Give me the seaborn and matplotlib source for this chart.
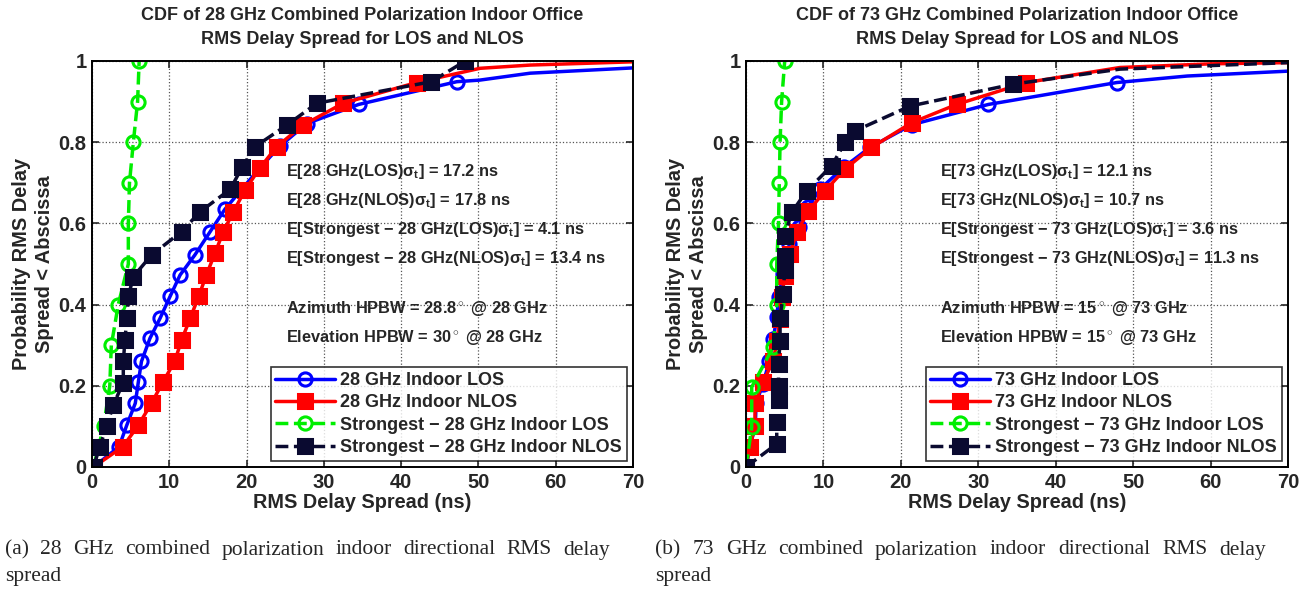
import matplotlib
matplotlib.use("Agg")
import matplotlib.pyplot as plt
import seaborn as sns
import numpy as np

# ---------------- data ----------------
# 28 GHz panel
l28_los_x = [0.2, 3.5, 4.5, 5.6, 6.0, 6.4, 7.5, 8.8, 10.1, 11.4, 13.3, 15.3, 17.2, 21.7, 24.3, 27.8, 34.5, 47.2, 50.2, 56.7, 70.0]
l28_los_y = [0.0, 0.05, 0.103, 0.157, 0.21, 0.26, 0.317, 0.366, 0.42, 0.473, 0.522, 0.58, 0.635, 0.736, 0.79, 0.846, 0.893, 0.949, 0.953, 0.97, 0.983]
l28_los_n = 18

l28_nlos_x = [0.2, 4.0, 6.0, 7.7, 9.2, 10.7, 11.6, 12.7, 13.8, 14.8, 15.9, 17.0, 18.3, 19.8, 21.7, 23.9, 27.3, 32.5, 42.0, 50.2, 56.7, 70.0]
l28_nlos_y = [0.0, 0.05, 0.103, 0.157, 0.21, 0.26, 0.313, 0.366, 0.42, 0.473, 0.526, 0.58, 0.629, 0.682, 0.736, 0.789, 0.842, 0.896, 0.947, 0.982, 0.99, 0.998]
l28_nlos_n = 19

s28_los_x = [0.2, 1.5, 2.3, 2.5, 3.4, 4.7, 4.7, 4.85, 5.35, 5.9, 6.1]
s28_los_y = [0.0, 0.1, 0.2, 0.3, 0.4, 0.5, 0.6, 0.7, 0.8, 0.9, 1.0]

s28_nlos_x = [0.2, 1.0, 1.9, 2.76, 4.05, 4.05, 4.27, 4.5, 4.7, 5.35, 7.7, 11.6, 14.0, 17.9, 19.4, 21.1, 25.2, 29.1, 43.9, 48.3]
s28_nlos_y = [0.0, 0.05, 0.10, 0.153, 0.208, 0.26, 0.313, 0.366, 0.42, 0.469, 0.522, 0.58, 0.629, 0.684, 0.738, 0.789, 0.842, 0.896, 0.949, 1.0]

# 73 GHz panel
l73_los_x = [0.0, 0.5, 1.2, 1.3, 2.2, 3.0, 3.5, 4.0, 4.2, 4.8, 5.6, 6.8, 8.0, 9.6, 12.6, 16.0, 21.4, 31.3, 47.9, 57.0, 70.0]
l73_los_y = [0.0, 0.05, 0.10, 0.157, 0.205, 0.26, 0.315, 0.369, 0.418, 0.475, 0.549, 0.59, 0.64, 0.685, 0.738, 0.787, 0.843, 0.893, 0.947, 0.963, 0.975]
l73_los_n = 19

l73_nlos_x = [0.0, 0.5, 1.16, 1.16, 2.2, 3.5, 4.0, 4.4, 4.6, 5.0, 5.7, 6.55, 8.05, 10.2, 12.8, 16.2, 21.4, 27.2, 36.2, 48.3, 60.0, 70.0]
l73_nlos_y = [0.0, 0.05, 0.10, 0.157, 0.21, 0.26, 0.31, 0.365, 0.418, 0.47, 0.525, 0.578, 0.63, 0.68, 0.734, 0.787, 0.848, 0.893, 0.947, 0.984, 0.993, 0.996]
l73_nlos_n = 19

s73_los_x = [0.0, 0.74, 0.74, 3.5, 3.97, 3.97, 4.2, 4.3, 4.4, 4.6, 5.0]
s73_los_y = [0.0, 0.098, 0.197, 0.295, 0.398, 0.5, 0.6, 0.7, 0.8, 0.9, 1.0]

s73_nlos_x = [0.0, 3.97, 3.97, 4.2, 4.2, 4.2, 4.4, 4.4, 4.8, 5.0, 5.0, 5.0, 5.9, 7.84, 11.07, 12.8, 14.1, 21.2, 34.5, 48.3, 70.0]
s73_nlos_y = [0.0, 0.057, 0.11, 0.164, 0.2, 0.254, 0.31, 0.367, 0.426, 0.484, 0.52, 0.57, 0.627, 0.68, 0.742, 0.80, 0.828, 0.889, 0.943, 0.98, 0.996]
s73_nlos_n = 19

xticks = [0, 10, 20, 30, 40, 50, 60, 70]
yticks = [0, 0.2, 0.4, 0.6, 0.8, 1.0]
yticklabels = ["0", "0.2", "0.4", "0.6", "0.8", "1"]

panels = [
    dict(freq="28",
         title="CDF of 28 GHz Combined Polarization Indoor Office\nRMS Delay Spread for LOS and NLOS",
         series=[(l28_los_x, l28_los_y, l28_los_n), (l28_nlos_x, l28_nlos_y, l28_nlos_n),
                 (s28_los_x, s28_los_y, len(s28_los_x)), (s28_nlos_x, s28_nlos_y, len(s28_nlos_x))],
         texts=["E[28 GHz(LOS)$\\mathbf{\\sigma_t}$] = 17.2 ns",
                "E[28 GHz(NLOS)$\\mathbf{\\sigma_t}$] = 17.8 ns",
                "E[Strongest \u2212 28 GHz(LOS)$\\mathbf{\\sigma_t}$] = 4.1 ns",
                "E[Strongest \u2212 28 GHz(NLOS)$\\mathbf{\\sigma_t}$] = 13.4 ns",
                "Azimuth HPBW = 28.8$^\\circ$ @ 28 GHz",
                "Elevation HPBW = 30$^\\circ$ @ 28 GHz"],
         caption="(a) 28 GHz combined polarization indoor directional RMS delay"),
    dict(freq="73",
         title="CDF of 73 GHz Combined Polarization Indoor Office\nRMS Delay Spread for LOS and NLOS",
         series=[(l73_los_x, l73_los_y, l73_los_n), (l73_nlos_x, l73_nlos_y, l73_nlos_n),
                 (s73_los_x, s73_los_y, len(s73_los_x)), (s73_nlos_x, s73_nlos_y, s73_nlos_n)],
         texts=["E[73 GHz(LOS)$\\mathbf{\\sigma_t}$] = 12.1 ns",
                "E[73 GHz(NLOS)$\\mathbf{\\sigma_t}$] = 10.7 ns",
                "E[Strongest \u2212 73 GHz(LOS)$\\mathbf{\\sigma_t}$] = 3.6 ns",
                "E[Strongest \u2212 73 GHz(NLOS)$\\mathbf{\\sigma_t}$] = 11.3 ns",
                "Azimuth HPBW = 15$^\\circ$ @ 73 GHz",
                "Elevation HPBW = 15$^\\circ$ @ 73 GHz"],
         caption="(b) 73 GHz combined polarization indoor directional RMS delay"),
]
text_y = [0.727, 0.657, 0.584, 0.514, 0.39, 0.32]

# ---------------- style ----------------
sns.set_style("ticks")
plt.rcParams["font.family"] = ["Liberation Sans", "DejaVu Sans"]
plt.rcParams["mathtext.fontset"] = "custom"
plt.rcParams["mathtext.rm"] = "Liberation Sans:bold"
plt.rcParams["mathtext.it"] = "Liberation Sans:bold"
plt.rcParams["mathtext.bf"] = "Liberation Sans:bold"

styles = [
    dict(color="#0000ff", ls="-", marker="o", mfc="none", mec="#0000ff"),
    dict(color="#ff0000", ls="-", marker="s", mfc="#ff0000", mec="#ff0000"),
    dict(color="#00ee00", ls="--", marker="o", mfc="none", mec="#00ee00"),
    dict(color="#0a0a30", ls="--", marker="s", mfc="#0a0a30", mec="#0a0a30"),
]

W, H = 1315, 589
fig = plt.figure(figsize=(W / 100, H / 100), dpi=100)
axes = [fig.add_axes([92 / W, 1 - 467 / H, 541 / W, 406 / H]),
        fig.add_axes([746 / W, 1 - 467 / H, 542 / W, 406 / H])]

for ax, p in zip(axes, panels):
    f = p["freq"]
    labels = [f"{f} GHz Indoor LOS", f"{f} GHz Indoor NLOS",
              f"Strongest \u2212 {f} GHz Indoor LOS", f"Strongest \u2212 {f} GHz Indoor NLOS"]
    for (xs, ys, n), st, lab in zip(p["series"], styles, labels):
        sns.lineplot(x=xs, y=ys, ax=ax, sort=False, estimator=None,
                     color=st["color"], linestyle=st["ls"], linewidth=2.5,
                     marker=st["marker"], markersize=9.5 if st["marker"] == "o" else 10,
                     markerfacecolor=st["mfc"], markeredgecolor=st["mec"],
                     markeredgewidth=2.2, markevery=list(range(n)), label=lab)
    ax.set_xlim(0, 70)
    ax.set_ylim(0, 1)
    ax.set_xticks(xticks)
    ax.set_yticks(yticks)
    ax.set_yticklabels(yticklabels)
    ax.grid(True, linestyle=":", color="#555555", linewidth=0.9)
    ax.tick_params(direction="in", top=True, right=True, length=5, width=1.2,
                   labelsize=14.5, pad=4)
    for lbl in ax.get_xticklabels() + ax.get_yticklabels():
        lbl.set_fontweight("bold")
    for s in ax.spines.values():
        s.set_linewidth(1.4)
        s.set_color("black")
    ax.set_title(p["title"], fontsize=13, fontweight="bold", pad=12, linespacing=1.55)
    ax.set_xlabel("RMS Delay Spread (ns)", fontsize=14.3, fontweight="bold", labelpad=1)
    ax.set_ylabel("Probability RMS Delay\nSpread < Abscissa", fontsize=14.4,
                  fontweight="bold", labelpad=3, linespacing=1.3)
    for t, ty in zip(p["texts"], text_y):
        ax.text(25.1, ty, t, fontsize=11.8, fontweight="bold", va="center", ha="left")
    leg = ax.legend(loc="lower right", fontsize=13, frameon=True, fancybox=False,
                    edgecolor="black", handlelength=3.3, borderpad=0.25,
                    labelspacing=0.3, handletextpad=0.3, borderaxespad=0.35)
    leg.get_frame().set_linewidth(1.2)
    for txt in leg.get_texts():
        txt.set_fontweight("bold")

# ---------------- justified captions ----------------
renderer = fig.canvas.get_renderer()


def justified(line, x0, x1, ypx, size):
    words = line.split(" ")
    objs = [fig.text(0, 1 - ypx / H, w, family="Liberation Serif", fontsize=size,
                     va="center", ha="left") for w in words]
    widths = [o.get_window_extent(renderer).width for o in objs]
    gap = (x1 - x0 - sum(widths)) / (len(words) - 1)
    x = x0
    for o, w in zip(objs, widths):
        o.set_x(x / W)
        x += w + gap


for p, (x0, x1) in zip(panels, [(5, 610), (655, 1266)]):
    justified(p["caption"], x0, x1, 550, 15.5)
    fig.text(x0 / W, 1 - 577 / H, "spread", family="Liberation Serif",
             fontsize=15.5, va="center", ha="left")

fig.savefig("out.png", dpi=100)
